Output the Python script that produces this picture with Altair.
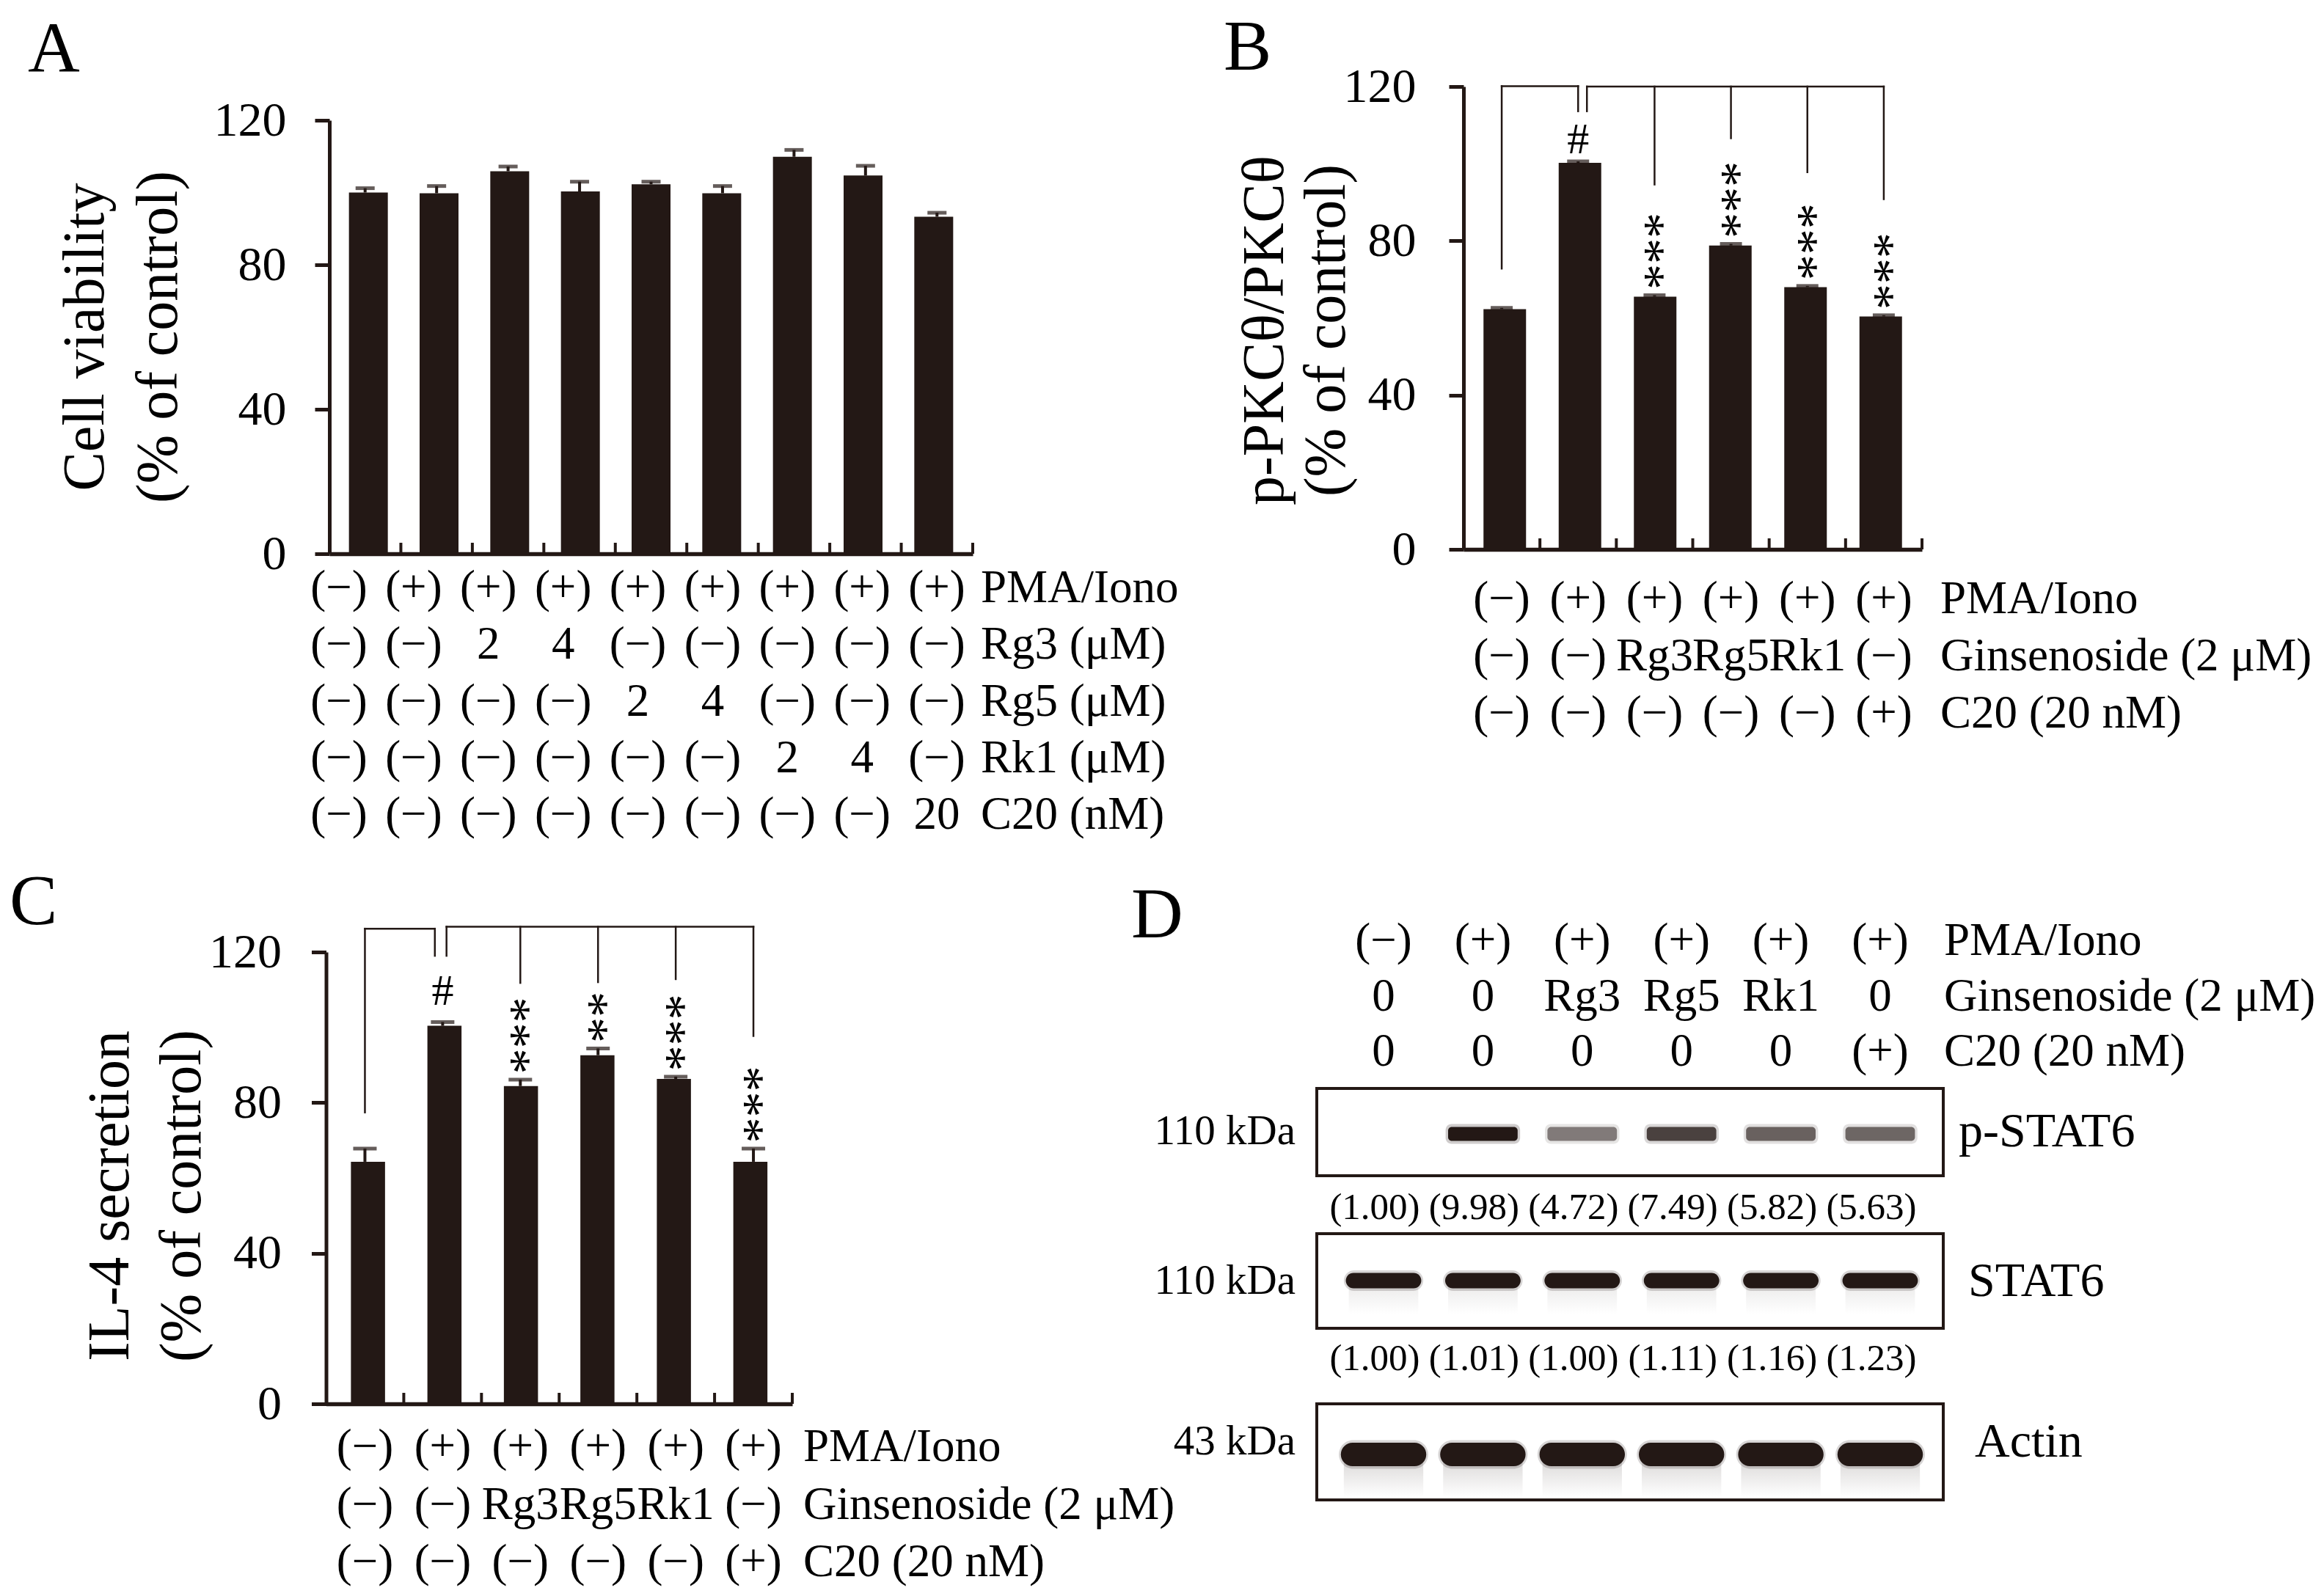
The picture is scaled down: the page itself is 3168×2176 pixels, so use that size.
import altair as alt
import pandas as pd

FONT = "Liberation Serif"
INK = "#231815"
TXT = "#000000"
M = "(\u2212)"
P = "(+)"
MU = "\u03bc"

# ------------------------------------------------------------------ data
# Panel A : cell viability
A_lanes = [1, 2, 3, 4, 5, 6, 7, 8, 9]
A_values = [100.0, 99.8, 105.9, 100.3, 102.3, 99.8, 109.9, 104.7, 93.3]
A_errors = [1.2, 2.0, 1.3, 2.7, 0.7, 2.0, 1.9, 2.7, 1.1]
A_title = ["Cell viability", "(% of control)"]
A_rows = ["PMA/Iono", f"Rg3 ({MU}M)", f"Rg5 ({MU}M)", f"Rk1 ({MU}M)", "C20 (nM)"]
A_cells = [
    [M, P, P, P, P, P, P, P, P],
    [M, M, "2", "4", M, M, M, M, M],
    [M, M, M, M, "2", "4", M, M, M],
    [M, M, M, M, M, M, "2", "4", M],
    [M, M, M, M, M, M, M, M, "20"],
]

# Panel B : p-PKCtheta / PKCtheta
B_lanes = [1, 2, 3, 4, 5, 6]
B_values = [62.3, 100.2, 65.5, 78.8, 68.0, 60.4]
B_errors = [0.3, 0.4, 0.4, 0.4, 0.3, 0.3]
B_hash = [0, 1, 0, 0, 0, 0]
B_stars = [0, 0, 3, 3, 3, 3]
B_title = ["p-PKC\u03b8/PKC\u03b8", "(% of control)"]
B_rows = ["PMA/Iono", f"Ginsenoside (2 {MU}M)", "C20 (20 nM)"]
B_cells = [
    [M, P, P, P, P, P],
    [M, M, "Rg3", "Rg5", "Rk1", M],
    [M, M, M, M, M, P],
]
B_bracket_tops = [120.1, 120.0]
B_bracket_legs = [[1, 2], [2.115, 3, 4, 5, 6]]
B_bracket_ends = [[72.8, 113.6], [113.6, 94.6, 106.6, 97.8, 90.8]]

# Panel C : IL-4 secretion
C_lanes = [1, 2, 3, 4, 5, 6]
C_values = [64.3, 100.4, 84.4, 92.6, 86.3, 64.3]
C_errors = [3.5, 1.0, 1.7, 1.8, 0.6, 3.5]
C_hash = [0, 1, 0, 0, 0, 0]
C_stars = [0, 0, 3, 2, 3, 3]
C_title = ["IL-4 secretion", "(% of control)"]
C_rows = B_rows
C_cells = B_cells
C_bracket_tops = [126.2, 126.7]
C_bracket_legs = [[1, 1.9], [2.05, 3, 4, 5, 6]]
C_bracket_ends = [[77.4, 119.0], [119.0, 111.8, 112.0, 112.8, 97.7]]

# Panel D : western blot
D_lanes = [1, 2, 3, 4, 5, 6]
D_rows = ["PMA/Iono", f"Ginsenoside (2 {MU}M)", "C20 (20 nM)"]
D_cells = [
    [M, P, P, P, P, P],
    ["0", "0", "Rg3", "Rg5", "Rk1", "0"],
    ["0", "0", "0", "0", "0", P],
]
D_blots = ["p-STAT6", "STAT6", "Actin"]
D_kda = ["110 kDa", "110 kDa", "43 kDa"]
pSTAT6_fold = [1.00, 9.98, 4.72, 7.49, 5.82, 5.63]
STAT6_fold = [1.00, 1.01, 1.00, 1.11, 1.16, 1.23]

# ------------------------------------------------------------------ layout (page pixels)
VIEW_W, VIEW_H = 3152, 2160
OFF = 8


def px(v):
    return v - OFF


GEOM = {
    "A": dict(x0=449, x1=1326, y0=755, y120=164, bar=53, cap=26, label_pad=39,
              title_x=116, title_y=459, title_lh=100, tbl_x=(462, 1277),
              tbl_y=(802, 1111), row_dx=60, hash_gap=12),
    "B": dict(x0=1995, x1=2620, y0=749, y120=118, bar=58, cap=30, label_pad=45,
              title_x=1724, title_y=450, title_lh=84, tbl_x=None,
              tbl_y=(817, 973), row_dx=77, hash_gap=11),
    "C": dict(x0=444.5, x1=1080, y0=1914, y120=1298, bar=46.5, cap=32, label_pad=41,
              title_x=150, title_y=1630, title_lh=98, tbl_x=None,
              tbl_y=(1973, 2130), row_dx=68, hash_gap=23),
}
TABLE_FS = 63
STAR_FS = 70          # one asterisk advance = 0.5 em = spacing between stacked stars
STAR_OFF = 25         # px from bar top to the centre of the lowest star
HASH_FS = 60
XTICK_PX = 15


def bar_panel(g, lanes, values, errors, title, rows, cells,
              hashes=None, stars=None, b_tops=None, b_legs=None, b_ends=None):
    n = len(lanes)
    xs = alt.Scale(domain=[0.5, n + 0.5], range=[px(g["x0"]), px(g["x1"])])
    ys = alt.Scale(domain=[0, 120], range=[px(g["y0"]), px(g["y120"])])
    ppu = (g["y0"] - g["y120"]) / 120.0
    df = pd.DataFrame({"lane": lanes, "value": values, "err": errors})
    df["top"] = df["value"] + df["err"]

    yax = alt.Axis(
        orient="left", offset=-px(g["x0"]), values=[0, 40, 80, 120], format="d",
        domain=True, domainColor=INK, domainWidth=5,
        ticks=True, tickSize=20, tickWidth=5, tickColor=INK,
        labels=True, labelFont=FONT, labelFontSize=66, labelColor=TXT,
        labelPadding=g["label_pad"], labelOverlap=False, labelFlush=False,
        grid=False, title=title, titleFont=FONT, titleFontSize=80,
        titleFontWeight="normal", titleColor=TXT, titleAngle=270,
        titleAlign="center", titleBaseline="middle", titleLineHeight=g["title_lh"],
        titleX=g["title_x"] - g["x0"], titleY=px(g["title_y"]), titleLimit=3000,
    )
    xax = alt.Axis(
        orient="bottom", offset=px(g["y0"]) - VIEW_H, domain=True, domainColor=INK,
        domainWidth=5.5, ticks=False, labels=False, grid=False, title=None,
    )
    X = lambda f: alt.X(f, scale=xs, axis=None)
    Y = lambda f: alt.Y(f, scale=ys, axis=None)

    layers = []
    layers.append(alt.Chart(df).mark_bar(size=g["bar"], orient="vertical", color=INK).encode(
        x=alt.X("lane:Q", scale=xs, axis=xax),
        y=alt.Y("value:Q", scale=ys, axis=yax)))
    layers.append(alt.Chart(df).mark_rule(color=INK, strokeWidth=4).encode(
        x=X("lane:Q"), y=Y("value:Q"), y2="top:Q"))
    layers.append(alt.Chart(df).mark_tick(orient="horizontal", size=g["cap"], thickness=5,
                                          color=INK).encode(x=X("lane:Q"), y=Y("top:Q")))
    # inward ticks on the category axis
    tdf = pd.DataFrame({"b": [l + 0.5 for l in lanes]})
    layers.append(alt.Chart(tdf).transform_calculate(
        t0="0", t1=str(XTICK_PX / ppu)).mark_rule(color=INK, strokeWidth=4).encode(
        x=X("b:Q"), y=Y("t0:Q"), y2="t1:Q"))

    if hashes:
        hdf = df[[h == 1 for h in hashes]]
        layers.append(alt.Chart(hdf).mark_text(
            text="#", font=FONT, fontSize=HASH_FS, color=TXT, baseline="alphabetic",
            dy=-g["hash_gap"]).encode(x=X("lane:Q"), y=Y("top:Q")))
    if stars:
        # each stack of asterisks is one text, set vertically (reading upwards)
        sdf = pd.DataFrame([{"lane": l, "top": v + e, "txt": "*" * s}
                            for l, v, e, s in zip(lanes, values, errors, stars) if s > 0])
        layers.append(alt.Chart(sdf).transform_calculate(
            ya=f"datum.top + ({STAR_OFF} - {0.25 * STAR_FS}) / {ppu}").mark_text(
            font=FONT, fontSize=STAR_FS, color=TXT, angle=270, align="left",
            baseline="middle", dy=round(STAR_FS * 0.17)).encode(
            x=X("lane:Q"), y=Y("ya:Q"), text="txt:N"))
    if b_tops:
        segs = []
        for top, legs, ends in zip(b_tops, b_legs, b_ends):
            segs.append({"x": min(legs), "x2": max(legs), "y": top, "y2": top})
            for xv, yb in zip(legs, ends):
                segs.append({"x": xv, "x2": xv, "y": yb, "y2": top})
        layers.append(alt.Chart(pd.DataFrame(segs)).mark_rule(
            color=INK, strokeWidth=2.5, strokeCap="square").encode(
            x=X("x:Q"), x2="x2:Q", y=Y("y:Q"), y2="y2:Q"))

    # condition table under the axis
    tx = (alt.Scale(domain=[1, n], range=[px(g["tbl_x"][0]), px(g["tbl_x"][1])])
          if g["tbl_x"] else xs)
    ty = alt.Scale(type="point", domain=rows, padding=0,
                   range=[px(g["tbl_y"][0]), px(g["tbl_y"][1])])
    cdf = pd.DataFrame([{"row": rows[r], "col": c + 1, "txt": t}
                        for r, line in enumerate(cells) for c, t in enumerate(line)])
    layers.append(alt.Chart(cdf).mark_text(
        font=FONT, fontSize=TABLE_FS, color=TXT, baseline="middle", align="center").encode(
        x=alt.X("col:Q", scale=tx, axis=None),
        y=alt.Y("row:N", scale=ty, axis=None), text="txt:N"))
    rdf = pd.DataFrame({"row": rows, "col": [n] * len(rows)})
    layers.append(alt.Chart(rdf).mark_text(
        font=FONT, fontSize=TABLE_FS, color=TXT, baseline="middle", align="left",
        dx=g["row_dx"]).encode(
        x=alt.X("col:Q", scale=tx, axis=None),
        y=alt.Y("row:N", scale=ty, axis=None), text="row:N"))
    return layers


layers = []
layers += bar_panel(GEOM["A"], A_lanes, A_values, A_errors, A_title, A_rows, A_cells)
layers += bar_panel(GEOM["B"], B_lanes, B_values, B_errors, B_title, B_rows, B_cells,
                    B_hash, B_stars, B_bracket_tops, B_bracket_legs, B_bracket_ends)
layers += bar_panel(GEOM["C"], C_lanes, C_values, C_errors, C_title, C_rows, C_cells,
                    C_hash, C_stars, C_bracket_tops, C_bracket_legs, C_bracket_ends)

# ------------------------------------------------------------------ panel D (blot schematic)
D_GEOM = {
    "lane1": 1886, "lane6": 2563, "box_l": 1795, "box_r": 2649,
    "hdr_y": (1283, 1434), "num_y": [1647, 1853], "num_dx": -12,
    "kda_dx": -29, "name_x": [2670, 2683, 2692],
    "p-STAT6": dict(top=1484, bottom=1603, band=1546, h=19, w=0.70, label=1543),
    "STAT6": dict(top=1682, bottom=1811, band=1746, h=21, w=0.76, label=1747),
    "Actin": dict(top=1914, bottom=2045, band=1983, h=32, w=0.86, label=1966),
}
step = (D_GEOM["lane6"] - D_GEOM["lane1"]) / 5.0
to_lane = lambda x: 1 + (x - D_GEOM["lane1"]) / step
DX = alt.Scale(domain=[1, 6], range=[px(D_GEOM["lane1"]), px(D_GEOM["lane6"])])
DY = alt.Scale(domain=[0, VIEW_H + OFF], range=[px(0), px(VIEW_H + OFF)])
dX = lambda f: alt.X(f, scale=DX, axis=None)
dY = lambda f: alt.Y(f, scale=DY, axis=None)

# header table
hty = alt.Scale(type="point", domain=D_rows, padding=0,
                range=[px(D_GEOM["hdr_y"][0]), px(D_GEOM["hdr_y"][1])])
hdf = pd.DataFrame([{"row": D_rows[r], "col": c + 1, "txt": t}
                    for r, line in enumerate(D_cells) for c, t in enumerate(line)])
layers.append(alt.Chart(hdf).mark_text(
    font=FONT, fontSize=TABLE_FS, color=TXT, baseline="middle", align="center").encode(
    x=dX("col:Q"), y=alt.Y("row:N", scale=hty, axis=None), text="txt:N"))
layers.append(alt.Chart(pd.DataFrame({"row": D_rows, "col": [6] * 3})).mark_text(
    font=FONT, fontSize=TABLE_FS, color=TXT, baseline="middle", align="left", dx=87).encode(
    x=dX("col:Q"), y=alt.Y("row:N", scale=hty, axis=None), text="row:N"))


def band_frame(blot, levels, grow_w=0.0, grow_h=0.0):
    gb = D_GEOM[blot]
    rows = []
    for lane, lv in zip(D_lanes, levels):
        w = gb["w"] + grow_w
        h = gb["h"] + grow_h
        rows.append({"lane": lane, "level": lv, "x1": lane - w / 2, "x2": lane + w / 2,
                     "y1": gb["band"] - h / 2, "y2": gb["band"] + h / 2})
    return pd.DataFrame(rows)


OPA = alt.Scale(type="pow", exponent=0.6, domain=[1.0, max(pSTAT6_fold)], range=[0.0, 1.0])
OPA_HALO = alt.Scale(type="pow", exponent=0.6, domain=[1.0, max(pSTAT6_fold)], range=[0.0, 0.22])

# faint smears below the strong bands
smear = alt.Gradient(gradient="linear", x1=0, x2=0, y1=0, y2=1,
                     stops=[alt.GradientStop(color="#b5b1b0", offset=0),
                            alt.GradientStop(color="#ffffff", offset=1)])
for blot, length, op in [("STAT6", 45, 0.3), ("Actin", 58, 0.55)]:
    gb = D_GEOM[blot]
    sdf = band_frame(blot, [1] * 6, grow_w=-0.06)
    sdf["y1"] = gb["band"]
    sdf["y2"] = gb["band"] + length
    layers.append(alt.Chart(sdf).mark_rect(color=smear, opacity=op).encode(
        x=dX("x1:Q"), x2="x2:Q", y=dY("y1:Q"), y2="y2:Q"))

# p-STAT6 bands: darkness follows the quantified fold change
layers.append(alt.Chart(band_frame("p-STAT6", pSTAT6_fold, 0.05, 8)).mark_rect(
    color=INK, cornerRadius=8).encode(
    x=dX("x1:Q"), x2="x2:Q", y=dY("y1:Q"), y2="y2:Q",
    opacity=alt.Opacity("level:Q", scale=OPA_HALO, legend=None)))
layers.append(alt.Chart(band_frame("p-STAT6", pSTAT6_fold)).mark_rect(
    color=INK, cornerRadius=5).encode(
    x=dX("x1:Q"), x2="x2:Q", y=dY("y1:Q"), y2="y2:Q",
    opacity=alt.Opacity("level:Q", scale=OPA, legend=None)))
for blot, fold in [("STAT6", STAT6_fold), ("Actin", [1] * 6)]:
    gb = D_GEOM[blot]
    layers.append(alt.Chart(band_frame(blot, fold, 0.04, 7)).mark_rect(
        color=INK, opacity=0.18, cornerRadius=gb["h"] / 2 + 4).encode(
        x=dX("x1:Q"), x2="x2:Q", y=dY("y1:Q"), y2="y2:Q"))
    layers.append(alt.Chart(band_frame(blot, fold)).mark_rect(
        color=INK, cornerRadius=gb["h"] / 2).encode(
        x=dX("x1:Q"), x2="x2:Q", y=dY("y1:Q"), y2="y2:Q"))

# frames around each blot
box_df = pd.DataFrame([{"blot": b, "x1": to_lane(D_GEOM["box_l"]), "x2": to_lane(D_GEOM["box_r"]),
                        "y1": D_GEOM[b]["top"], "y2": D_GEOM[b]["bottom"]} for b in D_blots])
layers.append(alt.Chart(box_df).mark_rect(fillOpacity=0, stroke=INK, strokeWidth=4).encode(
    x=dX("x1:Q"), x2="x2:Q", y=dY("y1:Q"), y2="y2:Q"))

# molecular weight and blot names
lab_df = pd.DataFrame({"blot": D_blots, "kda": D_kda,
                       "y": [D_GEOM[b]["label"] for b in D_blots],
                       "xl": [to_lane(D_GEOM["box_l"])] * 3,
                       "xn": [to_lane(v) for v in D_GEOM["name_x"]]})
layers.append(alt.Chart(lab_df).mark_text(
    font=FONT, fontSize=57, color=TXT, baseline="middle", align="right",
    dx=D_GEOM["kda_dx"]).encode(x=dX("xl:Q"), y=dY("y:Q"), text="kda:N"))
layers.append(alt.Chart(lab_df).mark_text(
    font=FONT, fontSize=66, color=TXT, baseline="middle", align="left").encode(
    x=dX("xn:Q"), y=dY("y:Q"), text="blot:N"))

# quantification rows
num_df = pd.DataFrame(
    [{"lane": l, "txt": f"({v:.2f})", "y": D_GEOM["num_y"][0]} for l, v in zip(D_lanes, pSTAT6_fold)] +
    [{"lane": l, "txt": f"({v:.2f})", "y": D_GEOM["num_y"][1]} for l, v in zip(D_lanes, STAT6_fold)])
layers.append(alt.Chart(num_df).mark_text(
    font=FONT, fontSize=51, color=TXT, baseline="middle", align="center",
    dx=D_GEOM["num_dx"]).encode(x=dX("lane:Q"), y=dY("y:Q"), text="txt:N"))

# panel letters
for letter, lx, ly in [("A", 38, 97), ("B", 1668, 95), ("C", 13, 1260), ("D", 1542, 1278)]:
    layers.append(alt.Chart(pd.DataFrame({"t": [letter]})).mark_text(
        font=FONT, fontSize=98, color=TXT, align="left", baseline="alphabetic").encode(
        x=alt.value(px(lx)), y=alt.value(px(ly)), text="t:N"))

chart = alt.layer(*layers).resolve_scale(
    x="independent", y="independent", opacity="independent"
).properties(
    width=VIEW_W, height=VIEW_H, padding=0,
    autosize=alt.AutoSizeParams(type="none"), background="white",
).configure_view(stroke=None)

chart.save("out.html", embed_options={"renderer": "svg", "actions": False})
